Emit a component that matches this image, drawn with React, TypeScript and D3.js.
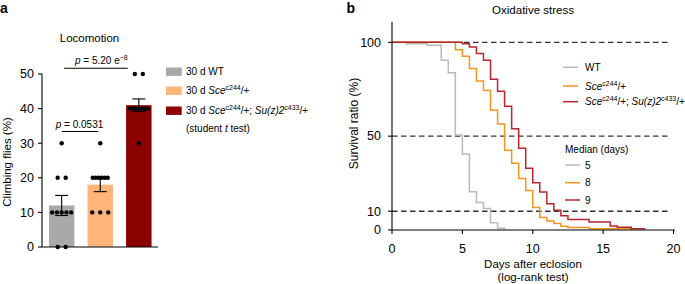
import React from "react";
import * as d3 from "d3";

// ---------- Panel a data ----------
const barCategories = ["30 d WT", "30 d Sce/+", "30 d Sce/+; Su(z)2/+"];
const wtFlies = [0, 0, 10, 10, 10, 10, 10, 20, 20, 30];
const sceFlies = [10, 10, 10, 20, 20, 20, 20, 20, 20, 30];
const sceSuzFlies = [30, 40, 40, 40, 40, 40, 40, 40, 50, 50];
const barTicks = [0, 10, 20, 30, 40, 50];
const barColors = ["#a9a9a9", "#ffb479", "#8b0000"];

// ---------- Panel b data ----------
const wtDays = [0, 1, 2.5, 3.5, 4, 4.5, 5, 5.5, 6, 6.5, 7, 7.5, 8];
const wtSurvival = [100, 99.3, 98.4, 90.4, 83.8, 50.6, 40.5, 20.4, 14.6, 11.5, 3.9, 0.9, 0];
const sceDays = [0, 4.5, 5, 5.5, 6, 6.5, 7, 7.5, 8, 8.5, 9, 9.5, 10, 10.5, 11, 11.5, 12, 12.5, 14, 17];
const sceSurvival = [100, 96, 92.6, 86.1, 79.4, 74.4, 64, 56.5, 42.5, 35.6, 27.5, 21, 12, 6.7, 4.8, 3.5, 2, 1.3, 0.6, 0.6];
const sceSuzDays = [0, 5, 5.5, 6, 6.5, 7, 7.5, 8, 8.5, 9, 9.5, 10, 10.5, 11, 11.5, 12, 12.5, 14, 15.5, 16, 17, 18];
const sceSuzSurvival = [100, 99.3, 97.5, 94.1, 90.4, 80.3, 74, 66, 54, 43.5, 32.9, 25.2, 20.2, 14, 10.5, 7.6, 5.6, 4.2, 2.1, 1.4, 0.7, 0.7];
const medianDays = [5, 8, 9];
const survivalTicksY = [0, 10, 50, 100];
const survivalTicksX = [0, 5, 10, 15, 20];
const referenceLevels = [100, 50, 10];
const lineColors = ["#bababa", "#f7931e", "#b9252b"];

const FONT = "'Liberation Sans', Arial, Helvetica, sans-serif";

function mean(a: number[]) {
  return d3.mean(a) as number;
}
function sem(a: number[]) {
  return (d3.deviation(a) as number) / Math.sqrt(a.length);
}

export default function App() {
  // Panel a scales
  const xA = d3.scaleBand<number>().domain([0, 1, 2]).range([42, 158.5]).paddingInner(0.34).paddingOuter(0.18);
  const yA = d3.scaleLinear().domain([0, 50]).range([247, 74]);
  const groups = [wtFlies, sceFlies, sceSuzFlies];

  // Panel b scales
  const xB = d3.scaleLinear().domain([0, 20]).range([392, 673.5]);
  const yB = d3.scaleLinear().domain([0, 111]).range([230, 21.7]);
  const series = [
    { days: wtDays, surv: wtSurvival },
    { days: sceDays, surv: sceSurvival },
    { days: sceSuzDays, surv: sceSuzSurvival },
  ];
  const line = d3
    .line<[number, number]>()
    .x((d) => xB(d[0]))
    .y((d) => yB(d[1]))
    .curve(d3.curveStepAfter);

  const dots: { x: number; y: number }[] = [];
  groups.forEach((g, gi) => {
    const counts = d3.rollup(g, (v) => v.length, (v) => v);
    const cx = (xA(gi) as number) + xA.bandwidth() / 2;
    counts.forEach((n, val) => {
      const spacing = n >= 6 ? 3 : n > 1 ? Math.min(8, 19 / (n - 1)) : 0;
      for (let i = 0; i < n; i++) {
        dots.push({ x: cx + (i - (n - 1) / 2) * spacing, y: yA(val) });
      }
    });
  });

  const legendA = [{ y: 71.7 }, { y: 90.7 }, { y: 110.7 }];

  return (
    <svg
      width={685}
      height={284}
      style={{ position: "absolute", left: 0, top: 0, background: "#fff" }}
      fontFamily={FONT}
    >
      {/* ---------- Panel a ---------- */}
      <text x={0} y={13} fontSize={14} fontWeight="bold">a</text>
      <text x={89.5} y={42} fontSize={11.5} textAnchor="middle">Locomotion</text>
      <text transform="translate(10.5,162) rotate(-90)" fontSize={11.5} textAnchor="middle">Climbing flies (%)</text>

      {groups.map((g, i) => (
        <rect key={i} x={xA(i)} y={yA(mean(g))} width={xA.bandwidth()} height={yA(0) - yA(mean(g))} fill={barColors[i]} />
      ))}
      {groups.map((g, i) => {
        const cx = (xA(i) as number) + xA.bandwidth() / 2;
        const m = mean(g);
        const s = sem(g);
        return (
          <g key={i} stroke="#000" strokeWidth={1.1}>
            <line x1={cx} x2={cx} y1={yA(m - s)} y2={yA(m + s)} />
            <line x1={cx - 6.5} x2={cx + 6.5} y1={yA(m + s)} y2={yA(m + s)} />
            <line x1={cx - 6.5} x2={cx + 6.5} y1={yA(m - s)} y2={yA(m - s)} />
          </g>
        );
      })}
      {dots.map((d, i) => (
        <circle key={i} cx={d.x} cy={d.y} r={2.2} fill="#000" />
      ))}

      {/* axes a */}
      <g stroke="#000" strokeWidth={1.1}>
        <line x1={42} x2={42} y1={yA(50)} y2={yA(0)} />
        <line x1={42} x2={158} y1={yA(0)} y2={yA(0)} />
        {barTicks.map((t) => (
          <line key={t} x1={38} x2={42} y1={yA(t)} y2={yA(t)} />
        ))}
      </g>
      {barTicks.map((t) => (
        <text key={t} x={34} y={yA(t) + 4.3} fontSize={12.5} textAnchor="end">{t}</text>
      ))}

      {/* significance */}
      <line x1={61.7} x2={98.3} y1={131.5} y2={131.5} stroke="#000" strokeWidth={1.1} />
      <text x={79.5} y={127.5} fontSize={10} textAnchor="middle">
        <tspan fontStyle="italic">p</tspan> = 0.0531
      </text>
      <line x1={64} x2={127.7} y1={68.3} y2={68.3} stroke="#000" strokeWidth={1.1} />
      <text x={75} y={63.5} fontSize={10}>
        <tspan fontStyle="italic">p</tspan> = 5.20 e<tspan dy={-4} fontSize={7}>−8</tspan>
      </text>

      {/* legend a */}
      {legendA.map((l, i) => (
        <rect key={i} x={166} y={l.y - 4.2} width={15.7} height={8.4} fill={barColors[i]} />
      ))}
      <text x={186} y={75.2} fontSize={10}>{barCategories[0]}</text>
      <text x={186} y={94.2} fontSize={10}>
        30 d <tspan fontStyle="italic">Sce</tspan>
        <tspan dy={-4} fontSize={7}>c244</tspan>
        <tspan dy={4}>/+</tspan>
      </text>
      <text x={186} y={114.2} fontSize={10}>
        30 d <tspan fontStyle="italic">Sce</tspan>
        <tspan dy={-4} fontSize={7}>c244</tspan>
        <tspan dy={4}>/+; </tspan>
        <tspan fontStyle="italic">Su(z)2</tspan>
        <tspan dy={-4} fontSize={7}>c433</tspan>
        <tspan dy={4}>/+</tspan>
      </text>
      <text x={186} y={131.5} fontSize={10}>
        (student <tspan fontStyle="italic">t</tspan> test)
      </text>

      {/* ---------- Panel b ---------- */}
      <text x={346.5} y={13} fontSize={14} fontWeight="bold">b</text>
      <text x={533} y={14} fontSize={11.5} textAnchor="middle">Oxidative stress</text>
      <text transform="translate(357.5,123.5) rotate(-90)" fontSize={12} textAnchor="middle">Survival ratio (%)</text>
      <text x={533} y={267.5} fontSize={11.5} textAnchor="middle">Days after eclosion</text>
      <text x={533} y={280.5} fontSize={11.5} textAnchor="middle">(log-rank test)</text>

      {referenceLevels.map((r) => (
        <line key={r} x1={xB(0)} x2={670} y1={yB(r)} y2={yB(r)} stroke="#333" strokeWidth={1.3} strokeDasharray="5.5,3.5" />
      ))}

      {series.map((s, i) => {
        const pts: [number, number][] = s.days.map((d, j) => [d, s.surv[j]]);
        return <path key={i} d={line(pts) as string} fill="none" stroke={lineColors[i]} strokeWidth={1.5} />;
      })}

      <g stroke="#000" strokeWidth={1.1}>
        <line x1={xB(0)} x2={xB(0)} y1={yB(111)} y2={yB(0)} />
        <line x1={xB(0)} x2={675} y1={yB(0)} y2={yB(0)} />
        {survivalTicksY.map((t) => (
          <line key={t} x1={xB(0) - 4} x2={xB(0)} y1={yB(t)} y2={yB(t)} />
        ))}
        {survivalTicksX.map((t) => (
          <line key={t} x1={xB(t)} x2={xB(t)} y1={yB(0)} y2={yB(0) + 4} />
        ))}
      </g>
      {survivalTicksY.map((t) => (
        <text key={t} x={381} y={yB(t) + 4.3} fontSize={12.5} textAnchor="end">{t}</text>
      ))}
      {survivalTicksX.map((t) => (
        <text key={t} x={xB(t)} y={252.5} fontSize={12.5} textAnchor="middle">{t}</text>
      ))}

      {/* legend b */}
      {[67.3, 86, 101.7].map((y, i) => (
        <line key={i} x1={563} x2={578} y1={y} y2={y} stroke={lineColors[i]} strokeWidth={1.5} />
      ))}
      <text x={585} y={70.8} fontSize={10}>WT</text>
      <text x={585} y={89.5} fontSize={10}>
        <tspan fontStyle="italic">Sce</tspan>
        <tspan dy={-4} fontSize={7}>c244</tspan>
        <tspan dy={4}>/+</tspan>
      </text>
      <text x={585} y={105.2} fontSize={10}>
        <tspan fontStyle="italic">Sce</tspan>
        <tspan dy={-4} fontSize={7}>c244</tspan>
        <tspan dy={4}>/+; </tspan>
        <tspan fontStyle="italic">Su(z)2</tspan>
        <tspan dy={-4} fontSize={7}>c433</tspan>
        <tspan dy={4}>/+</tspan>
      </text>
      <text x={565} y={152.5} fontSize={10}>Median (days)</text>
      {[165, 182.7, 200].map((y, i) => (
        <g key={i}>
          <line x1={565} x2={580} y1={y} y2={y} stroke={lineColors[i]} strokeWidth={1.5} />
          <text x={585} y={y + 3.5} fontSize={10}>{medianDays[i]}</text>
        </g>
      ))}
    </svg>
  );
}
